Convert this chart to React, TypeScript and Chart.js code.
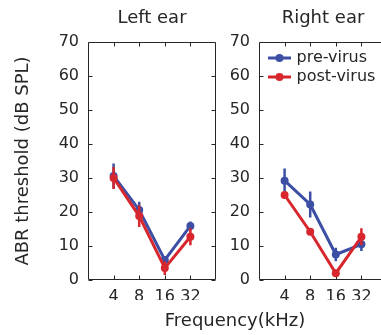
import React, { useEffect, useRef } from 'react';
import { Chart, registerables } from 'chart.js';

Chart.register(...registerables);

// ---- data ----
const freqLabels = ['4', '8', '16', '32'];
const seriesNames = ['pre-virus', 'post-virus'];
const panelTitles = ['Left ear', 'Right ear'];
const yAxisTitle = 'ABR threshold (dB SPL)';
const xAxisTitle = 'Frequency(kHz)';

const leftPre = [30.6, 20.6, 5.9, 15.9];
const leftPreErr = [3.7, 2.4, 1.0, 1.3];
const leftPost = [30.0, 18.8, 3.5, 12.7];
const leftPostErr = [3.2, 3.2, 2.0, 2.5];

const rightPre = [29.2, 22.2, 7.5, 10.5];
const rightPreErr = [3.6, 3.8, 2.0, 2.0];
const rightPost = [25.0, 14.2, 2.0, 12.7];
const rightPostErr = [0.8, 0.8, 0.8, 2.5];

// ---- styles ----
const BLUE = '#3d4fa5';
const RED = '#d7262d';
const INK = '#262626';
const FAMILY = 'DejaVu Sans';

const boxPlugin = {
  id: 'matlabBox',
  beforeDatasetsDraw(chart: any) {
    const { ctx, chartArea: a, scales } = chart;
    const xs = scales.x;
    const ys = scales.y;
    const L = Math.round(a.left) + 0.5;
    const R = Math.round(a.right) - 0.5;
    const T = Math.round(a.top) + 0.5;
    const B = Math.round(a.bottom) - 0.5;
    const tl = 4;
    ctx.save();
    ctx.strokeStyle = INK;
    ctx.lineWidth = 1;
    ctx.beginPath();
    ctx.moveTo(L, T); ctx.lineTo(R, T); ctx.lineTo(R, B); ctx.lineTo(L, B); ctx.closePath();
    ys.ticks.forEach((t: any) => {
      const py = Math.round(ys.getPixelForValue(t.value)) + 0.5;
      ctx.moveTo(L, py); ctx.lineTo(L + tl, py);
      ctx.moveTo(R, py); ctx.lineTo(R - tl, py);
    });
    xs.ticks.forEach((t: any) => {
      const px = Math.round(xs.getPixelForValue(t.value)) + 0.5;
      ctx.moveTo(px, B); ctx.lineTo(px, B - tl);
      ctx.moveTo(px, T); ctx.lineTo(px, T + tl);
    });
    ctx.stroke();
    ctx.restore();
  },
};

const errPlugin = {
  id: 'errBars',
  beforeDatasetDraw(chart: any, args: any) {
    const ds: any = chart.data.datasets[args.index];
    const errs: number[] = ds.errors || [];
    const ys = chart.scales.y;
    const { ctx } = chart;
    ctx.save();
    ctx.strokeStyle = ds.borderColor;
    ctx.lineWidth = 2.5;
    ctx.beginPath();
    args.meta.data.forEach((pt: any, i: number) => {
      const v = ds.data[i].y;
      const e = errs[i] || 0;
      ctx.moveTo(pt.x, ys.getPixelForValue(v + e));
      ctx.lineTo(pt.x, ys.getPixelForValue(v - e));
    });
    ctx.stroke();
    ctx.restore();
  },
};

const legendPlugin = {
  id: 'insideLegend',
  afterDraw(chart: any) {
    const { ctx, chartArea: a } = chart;
    const colors = [BLUE, RED];
    ctx.save();
    ctx.font = `16px "${FAMILY}"`;
    ctx.textBaseline = 'middle';
    ctx.textAlign = 'left';
    seriesNames.forEach((name, i) => {
      const y = a.top + 16 + i * 19;
      ctx.strokeStyle = colors[i];
      ctx.fillStyle = colors[i];
      ctx.lineWidth = 3;
      ctx.beginPath();
      ctx.moveTo(a.left + 9, y);
      ctx.lineTo(a.left + 32, y);
      ctx.stroke();
      ctx.beginPath();
      ctx.arc(a.left + 20.5, y, 4, 0, Math.PI * 2);
      ctx.fill();
      ctx.fillStyle = INK;
      ctx.fillText(name, a.left + 37.5, y);
    });
    ctx.restore();
  },
};

function toPoints(vals: number[]) {
  return vals.map((v, i) => ({ x: i + 1, y: v }));
}

function makeConfig(p: {
  title: string;
  pre: number[];
  preErr: number[];
  post: number[];
  postErr: number[];
  showYTitle: boolean;
  yAxisWidth: number;
  padRight: number;
  subtitle?: string;
  legend: boolean;
}): any {
  const tickFont = { family: FAMILY, size: 16 };
  const titleFont = { family: FAMILY, size: 18, weight: 'normal' as const };
  const mk = (label: string, vals: number[], errs: number[], color: string, order: number) => ({
    label,
    data: toPoints(vals),
    errors: errs,
    borderColor: color,
    backgroundColor: color,
    pointBackgroundColor: color,
    pointBorderColor: color,
    borderWidth: 3,
    pointRadius: 4,
    pointBorderWidth: 0,
    tension: 0,
    order,
  });
  return {
    type: 'line',
    data: {
      datasets: [
        mk(seriesNames[0], p.pre, p.preErr, BLUE, 1),
        mk(seriesNames[1], p.post, p.postErr, RED, 0),
      ],
    },
    options: {
      responsive: false,
      animation: false,
      devicePixelRatio: 1,
      layout: { padding: { left: 0, right: p.padRight, top: 0, bottom: 0 } },
      plugins: {
        legend: { display: false },
        tooltip: { enabled: false },
        title: {
          display: true,
          text: p.title,
          fullSize: false,
          color: INK,
          font: titleFont,
          padding: { top: 7.5, bottom: 12.9 },
        },
        subtitle: {
          display: !!p.subtitle,
          text: p.subtitle || '',
          position: 'bottom',
          fullSize: true,
          color: INK,
          font: titleFont,
          padding: { top: 10.7, bottom: 2.7 },
        },
      },
      scales: {
        x: {
          type: 'linear',
          min: 0,
          max: 5,
          grid: { display: false, drawTicks: false },
          border: { display: false },
          afterBuildTicks: (s: any) => {
            s.ticks = freqLabels.map((_, i) => ({ value: i + 1 }));
          },
          ticks: {
            callback: (v: any) => freqLabels[Number(v) - 1] ?? '',
            padding: 7,
            font: tickFont,
            color: INK,
            maxRotation: 0,
            autoSkip: false,
          },
          afterFit: (s: any) => {
            s.height = 20;
          },
        },
        y: {
          min: 0,
          max: 70,
          grid: { display: false, drawTicks: false },
          border: { display: false },
          ticks: { stepSize: 10, padding: 9, font: tickFont, color: INK },
          title: {
            display: p.showYTitle,
            text: yAxisTitle,
            color: INK,
            font: titleFont,
            padding: { top: 13, bottom: 0 },
          },
          afterFit: (s: any) => {
            s.width = p.yAxisWidth;
          },
        },
      },
    },
    plugins: [boxPlugin, errPlugin, ...(p.legend ? [legendPlugin] : [])],
  };
}

export default function App() {
  const leftRef = useRef<HTMLCanvasElement>(null);
  const rightRef = useRef<HTMLCanvasElement>(null);

  useEffect(() => {
    const left = new Chart(
      leftRef.current!,
      makeConfig({
        title: panelTitles[0],
        pre: leftPre,
        preErr: leftPreErr,
        post: leftPost,
        postErr: leftPostErr,
        showYTitle: true,
        yAxisWidth: 88,
        padRight: 24,
        legend: false,
      })
    );
    const right = new Chart(
      rightRef.current!,
      makeConfig({
        title: panelTitles[1],
        pre: rightPre,
        preErr: rightPreErr,
        post: rightPost,
        postErr: rightPostErr,
        showYTitle: false,
        yAxisWidth: 176,
        padRight: 16,
        subtitle: xAxisTitle,
        legend: true,
      })
    );
    return () => {
      left.destroy();
      right.destroy();
    };
  }, []);

  return (
    <div
      style={{
        position: 'fixed',
        left: 0,
        top: 0,
        width: 381,
        height: 335,
        overflow: 'hidden',
        background: '#ffffff',
      }}
    >
      <canvas
        ref={leftRef}
        width={240}
        height={300}
        style={{ position: 'absolute', left: 0, top: 0, width: 240, height: 300 }}
      />
      <canvas
        ref={rightRef}
        width={320}
        height={335}
        style={{ position: 'absolute', left: 83, top: 0, width: 320, height: 335 }}
      />
    </div>
  );
}
